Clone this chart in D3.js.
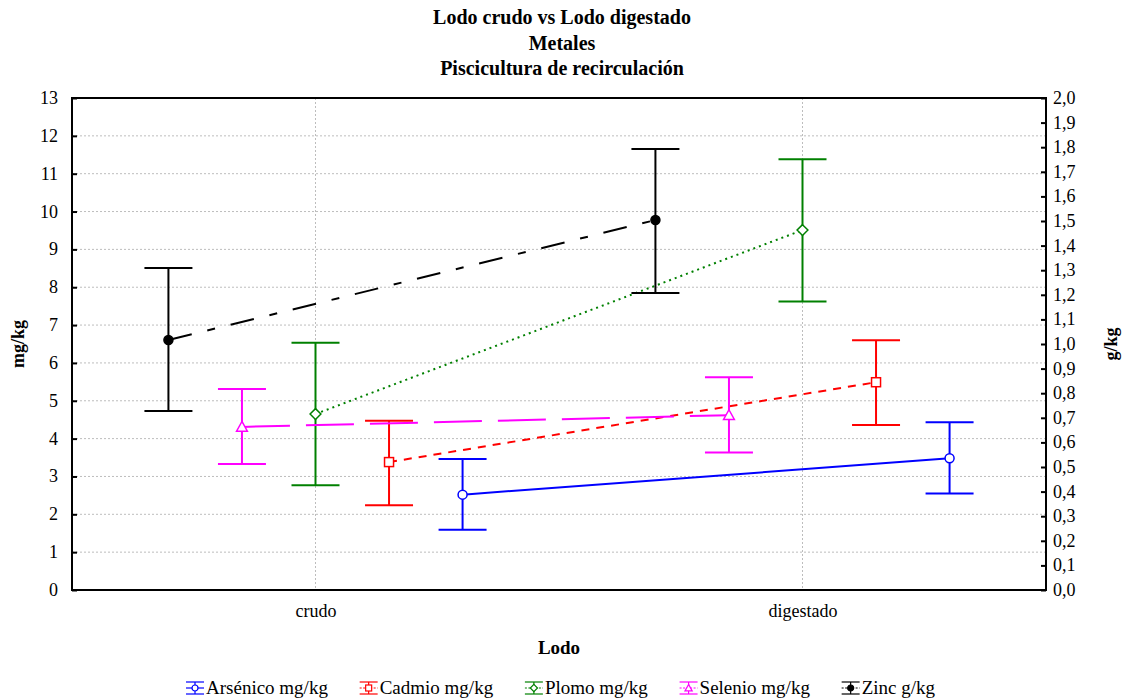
<!DOCTYPE html>
<html>
<head>
<meta charset="utf-8">
<script src="https://cdn.jsdelivr.net/npm/d3@7"></script>
<style>
html,body{margin:0;padding:0;background:#fff;}
</style>
</head>
<body>
<svg id="chart" width="1125" height="700"></svg>
<script>
// ---- data ----
const categories = ["crudo", "digestado"];
const seriesNames = ["Arsénico mg/kg", "Cadmio mg/kg", "Plomo mg/kg", "Selenio mg/kg", "Zinc g/kg"];
const arsenicoMean = [2.52, 3.48], arsenicoLow = [1.59, 2.55], arsenicoHigh = [3.46, 4.43];
const cadmioMean   = [3.38, 5.49], cadmioLow   = [2.24, 4.36], cadmioHigh   = [4.47, 6.60];
const plomoMean    = [4.65, 9.51], plomoLow    = [2.77, 7.62], plomoHigh    = [6.53, 11.38];
const selenioMean  = [4.31, 4.62], selenioLow  = [3.33, 3.63], selenioHigh  = [5.31, 5.62];
const zincMean     = [1.016, 1.504], zincLow   = [0.728, 1.207], zincHigh   = [1.309, 1.793];
const leftTicks = [0,1,2,3,4,5,6,7,8,9,10,11,12,13];
const rightTicks = [0,0.1,0.2,0.3,0.4,0.5,0.6,0.7,0.8,0.9,1.0,1.1,1.2,1.3,1.4,1.5,1.6,1.7,1.8,1.9,2.0];
const titleLines = ["Lodo crudo vs Lodo digestado", "Metales", "Piscicultura de recirculación"];

const FONT = "'Liberation Serif', 'DejaVu Serif', serif";

// ---- layout ----
const svg = d3.select("#chart");
const L = 72, R = 1046, T = 98, B = 590;

const x = d3.scalePoint().domain(categories).range([L, R]).padding(0.5);
const yL = d3.scaleLinear().domain([0, 13]).range([B, T]);
const yR = d3.scaleLinear().domain([0, 2]).range([B, T]);
const step = x.step();
const offsetOrder = ["Zinc g/kg", "Selenio mg/kg", "Plomo mg/kg", "Cadmio mg/kg", "Arsénico mg/kg"];
const off = d3.scalePoint().domain(offsetOrder).range([-0.302 * step, 0.302 * step]);

const series = [
  {name: seriesNames[0], mean: arsenicoMean, lo: arsenicoLow, hi: arsenicoHigh, color: "#0000ff", dash: null, marker: "circle", y: yL},
  {name: seriesNames[1], mean: cadmioMean, lo: cadmioLow, hi: cadmioHigh, color: "#ff0000", dash: "8,7", marker: "square", y: yL},
  {name: seriesNames[2], mean: plomoMean, lo: plomoLow, hi: plomoHigh, color: "#008000", dash: "2,4", marker: "diamond", y: yL},
  {name: seriesNames[3], mean: selenioMean, lo: selenioLow, hi: selenioHigh, color: "#ff00ff", dash: "48,16", marker: "triangle", y: yL},
  {name: seriesNames[4], mean: zincMean, lo: zincLow, hi: zincHigh, color: "#000000", dash: "24,16,8,16", marker: "filled", y: yR}
];

function txt(sel) { return sel.style("font-family", FONT).attr("fill", "#000"); }

// ---- title ----
svg.selectAll("text.title").data(titleLines).join("text")
  .attr("class", "title")
  .attr("x", 562).attr("y", (d, i) => 24 + i * 25.5)
  .attr("text-anchor", "middle")
  .style("font-weight", "bold").style("font-size", "20px")
  .call(txt)
  .text(d => d);

// ---- grid ----
const grid = svg.append("g");
grid.selectAll("line.h").data(leftTicks.slice(1, -1)).join("line")
  .attr("x1", L).attr("x2", R).attr("y1", d => yL(d)).attr("y2", d => yL(d))
  .attr("stroke", "#bdbdbd").attr("stroke-width", 1).attr("stroke-dasharray", "2,2");
grid.selectAll("line.v").data(categories).join("line")
  .attr("x1", d => x(d)).attr("x2", d => x(d)).attr("y1", T).attr("y2", B)
  .attr("stroke", "#bdbdbd").attr("stroke-width", 1).attr("stroke-dasharray", "2,2");

// ---- axes ----
const axL = svg.append("g").attr("transform", `translate(${L},0)`)
  .call(d3.axisRight(yL).tickValues(leftTicks).tickSize(5));
axL.selectAll("text").remove();
axL.select(".domain").remove();
axL.selectAll("line").attr("stroke-width", 2);
svg.append("g").selectAll("text").data(leftTicks).join("text")
  .attr("x", 58).attr("y", d => yL(d) + 6)
  .attr("text-anchor", "end").style("font-size", "18px").call(txt).text(d => d);

const axR = svg.append("g").attr("transform", `translate(${R},0)`)
  .call(d3.axisLeft(yR).tickValues(rightTicks).tickSize(5));
axR.selectAll("text").remove();
axR.select(".domain").remove();
axR.selectAll("line").attr("stroke-width", 2);
const fmtR = d => d3.format(".1f")(d).replace(".", ",");
svg.append("g").selectAll("text").data(rightTicks).join("text")
  .attr("x", 1053).attr("y", d => yR(d) + 6)
  .attr("text-anchor", "start").style("font-size", "18px").call(txt).text(fmtR);

const axB = svg.append("g").attr("transform", `translate(0,${B})`)
  .call(d3.axisBottom(x).tickSize(0));
axB.select(".domain").remove();
axB.selectAll("text").attr("dy", null).attr("y", 27)
  .style("font-size", "18px").call(txt);

// frame
svg.append("rect").attr("x", L).attr("y", T).attr("width", R - L).attr("height", B - T)
  .attr("fill", "none").attr("stroke", "#000").attr("stroke-width", 2);

// axis titles
svg.append("text").attr("x", 559).attr("y", 654).attr("text-anchor", "middle")
  .style("font-weight", "bold").style("font-size", "19px").call(txt).text("Lodo");
svg.append("text").attr("transform", `translate(24,${(T + B) / 2}) rotate(-90)`)
  .attr("text-anchor", "middle").style("font-weight", "bold").style("font-size", "18px").call(txt).text("mg/kg");
svg.append("text").attr("transform", `translate(1117,${(T + B) / 2}) rotate(-90)`)
  .attr("text-anchor", "middle").style("font-weight", "bold").style("font-size", "18px").call(txt).text("g/kg");

// ---- marks ----
function drawMarker(g, type, cx, cy, color, s, sw) {
  if (type === "circle" || type === "filled") {
    g.append("circle").attr("cx", cx).attr("cy", cy).attr("r", s)
      .attr("fill", type === "filled" ? color : "#fff").attr("stroke", color).attr("stroke-width", sw);
  } else if (type === "square") {
    g.append("rect").attr("x", cx - s).attr("y", cy - s).attr("width", 2 * s).attr("height", 2 * s)
      .attr("fill", "#fff").attr("stroke", color).attr("stroke-width", sw);
  } else if (type === "diamond") {
    const r = s * 1.2;
    g.append("path").attr("d", `M${cx},${cy - r}L${cx + r},${cy}L${cx},${cy + r}L${cx - r},${cy}Z`)
      .attr("fill", "#fff").attr("stroke", color).attr("stroke-width", sw);
  } else if (type === "triangle") {
    const r = s * 1.2;
    g.append("path").attr("d", `M${cx},${cy - r}L${cx + r},${cy + r * 0.8}L${cx - r},${cy + r * 0.8}Z`)
      .attr("fill", "#fff").attr("stroke", color).attr("stroke-width", sw);
  }
}

const cap = 24;
const plot = svg.append("g");
series.forEach(s => {
  const g = plot.append("g");
  const pts = categories.map((c, i) => ({cx: x(c) + off(s.name), m: s.y(s.mean[i]), lo: s.y(s.lo[i]), hi: s.y(s.hi[i])}));
  g.append("path").attr("d", d3.line().x(d => d.cx).y(d => d.m)(pts))
    .attr("fill", "none").attr("stroke", s.color).attr("stroke-width", 2)
    .attr("stroke-dasharray", s.dash);
  pts.forEach(p => {
    g.append("line").attr("x1", p.cx).attr("x2", p.cx).attr("y1", p.hi).attr("y2", p.lo)
      .attr("stroke", s.color).attr("stroke-width", 2);
    [p.hi, p.lo].forEach(yy => g.append("line").attr("x1", p.cx - cap).attr("x2", p.cx + cap)
      .attr("y1", yy).attr("y2", yy).attr("stroke", s.color).attr("stroke-width", 2));
    drawMarker(g, s.marker, p.cx, p.m, s.color, 4.5, 1.5);
  });
});

// ---- legend ----
const legY = 688, glyphW = 18, glyphGap = 2, legLeft = 186, legRight = 935;
const leg = svg.append("g");
const items = series.map(s => {
  const g = leg.append("g");
  g.append("line").attr("x1", 0).attr("x2", glyphW).attr("y1", -6).attr("y2", -6).attr("stroke", s.color).attr("stroke-width", 1.2);
  g.append("line").attr("x1", 0).attr("x2", glyphW).attr("y1", 6).attr("y2", 6).attr("stroke", s.color).attr("stroke-width", 1.2);
  g.append("line").attr("x1", 0).attr("x2", glyphW).attr("y1", 0).attr("y2", 0).attr("stroke", s.color).attr("stroke-width", 1.2)
    .attr("stroke-dasharray", s.dash ? "2,1.5" : null);
  g.append("line").attr("x1", glyphW / 2).attr("x2", glyphW / 2).attr("y1", -6).attr("y2", 6).attr("stroke", s.color).attr("stroke-width", 1.2);
  drawMarker(g, s.marker, glyphW / 2, 0, s.color, 3, 1.2);
  const t = g.append("text").attr("x", glyphW + glyphGap).attr("y", 6).style("font-size", "19px").call(txt).text(s.name);
  return {g, w: glyphW + glyphGap + t.node().getComputedTextLength()};
});
const totalW = d3.sum(items, d => d.w);
const gap = (legRight - legLeft - totalW) / (items.length - 1);
let cx = legLeft;
items.forEach(it => { it.g.attr("transform", `translate(${cx},${legY})`); cx += it.w + gap; });
</script>
</body>
</html>
